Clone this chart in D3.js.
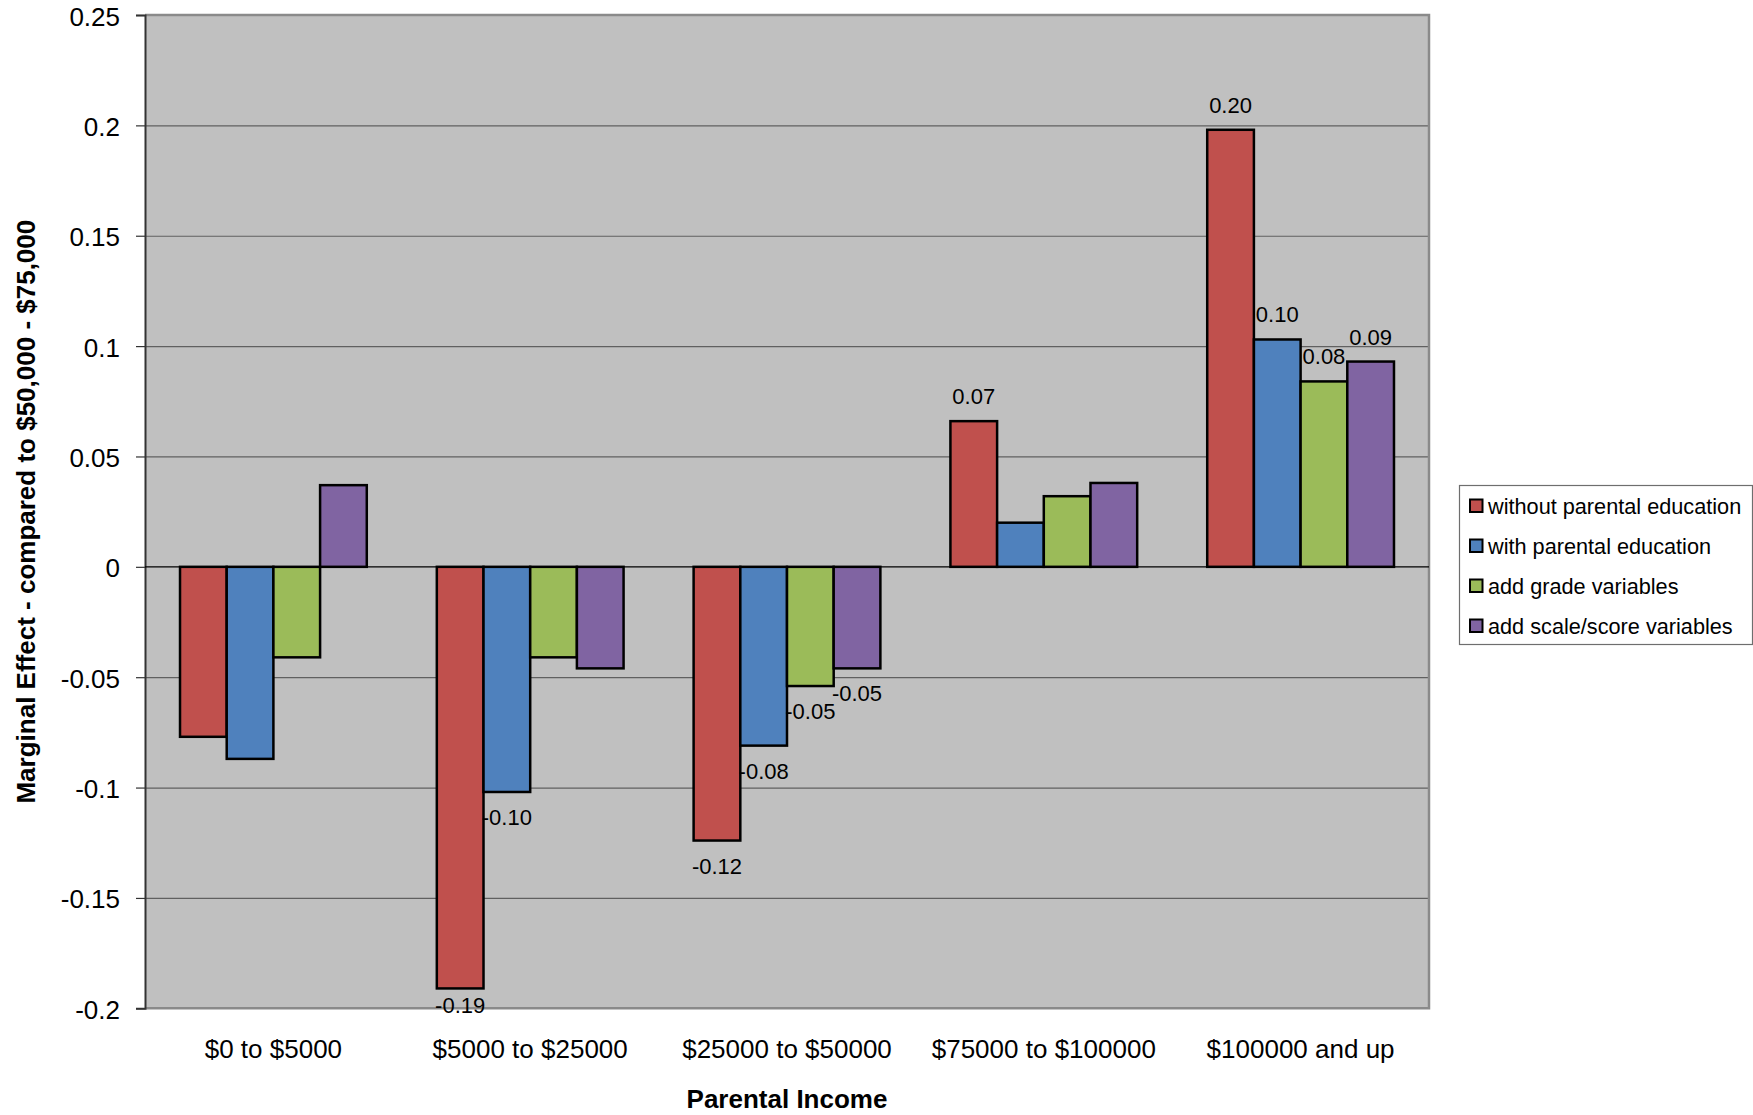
<!DOCTYPE html>
<html>
<head>
<meta charset="utf-8">
<script src="https://cdn.jsdelivr.net/npm/d3@7"></script>
<style>
  html, body { margin: 0; padding: 0; background: #ffffff; }
  svg { display: block; font-family: "Liberation Sans", Arial, sans-serif; }
</style>
</head>
<body>
<svg id="chart" width="1753" height="1115"></svg>
<script>
// ---- data ----
const categories = ["$0 to $5000", "$5000 to $25000", "$25000 to $50000", "$75000 to $100000", "$100000 and up"];
const seriesNames = ["without parental education", "with parental education", "add grade variables", "add scale/score variables"];
const withoutParentalEducation = [-0.077, -0.191, -0.124, 0.066, 0.198];
const withParentalEducation = [-0.087, -0.102, -0.081, 0.020, 0.103];
const addGradeVariables = [-0.041, -0.041, -0.054, 0.032, 0.084];
const addScaleScoreVariables = [0.037, -0.046, -0.046, 0.038, 0.093];
// which bars carry a data label (1 = shown)
const labelWithout = [0, 1, 1, 1, 1];
const labelWith = [0, 1, 1, 0, 1];
const labelGrade = [0, 0, 1, 0, 1];
const labelScale = [0, 0, 1, 0, 1];
const yTickValues = [0.25, 0.2, 0.15, 0.1, 0.05, 0, -0.05, -0.1, -0.15, -0.2];
const yTickLabels = ["0.25", "0.2", "0.15", "0.1", "0.05", "0", "-0.05", "-0.1", "-0.15", "-0.2"];
const yTitle = "Marginal Effect - compared to $50,000 - $75,000";
const xTitle = "Parental Income";

const seriesValues = [withoutParentalEducation, withParentalEducation, addGradeVariables, addScaleScoreVariables];
const seriesLabels = [labelWithout, labelWith, labelGrade, labelScale];
const colors = ["#C0504D", "#4F81BD", "#9BBB59", "#8064A2"];

// ---- layout ----
const plot = { left: 145, right: 1429, top: 15, bottom: 1008.3 };
const svg = d3.select("#chart");

const x0 = d3.scaleBand().domain(categories).range([plot.left, plot.right]).paddingInner(0).paddingOuter(0);
const x1 = d3.scaleBand().domain(d3.range(seriesNames.length)).range([0, x0.bandwidth()]).paddingInner(0).paddingOuter(0.75);
const y = d3.scaleLinear().domain([-0.2, 0.25]).range([plot.bottom, plot.top]);

// plot background
svg.append("rect")
  .attr("x", plot.left).attr("y", plot.top)
  .attr("width", plot.right - plot.left).attr("height", plot.bottom - plot.top)
  .attr("fill", "#C0C0C0");

// gridlines
const grid = svg.append("g")
  .attr("transform", `translate(${plot.left},0)`)
  .call(d3.axisLeft(y).tickValues(yTickValues.filter(v => v !== 0 && v !== 0.25 && v !== -0.2)).tickSize(-(plot.right - plot.left)).tickFormat(""));
grid.select(".domain").remove();
grid.selectAll("line").attr("stroke", "#606060").attr("stroke-width", 1.2);

// border (top, right, bottom)
svg.append("path")
  .attr("d", `M${plot.left},${plot.top}H${plot.right}V${plot.bottom}H${plot.left}`)
  .attr("fill", "none").attr("stroke", "#8a8a8a").attr("stroke-width", 2.5);

// y axis
const yAxis = svg.append("g")
  .attr("transform", `translate(${plot.left},0)`)
  .call(d3.axisLeft(y).tickValues(yTickValues).tickSize(9).tickPadding(16)
    .tickFormat((d, i) => yTickLabels[i]));
yAxis.select(".domain").attr("stroke", "#333").attr("stroke-width", 2);
yAxis.selectAll(".tick line").attr("stroke", "#333").attr("stroke-width", 1.2);
yAxis.selectAll(".tick text")
  .attr("font-size", 26).attr("fill", "#000")
  .attr("dy", null).attr("y", 10)
  .style("font-family", "'Liberation Sans', Arial, sans-serif");

// zero line
svg.append("line")
  .attr("x1", plot.left).attr("x2", plot.right)
  .attr("y1", y(0)).attr("y2", y(0))
  .attr("stroke", "#000").attr("stroke-width", 1.3);

// bars
const groups = svg.append("g").selectAll("g")
  .data(categories)
  .join("g")
  .attr("transform", d => `translate(${x0(d)},0)`);

groups.selectAll("rect")
  .data((d, ci) => seriesValues.map((vals, si) => ({ si, v: vals[ci], show: seriesLabels[si][ci] })))
  .join("rect")
  .attr("x", d => x1(d.si))
  .attr("width", x1.bandwidth())
  .attr("y", d => Math.min(y(d.v), y(0)))
  .attr("height", d => Math.abs(y(d.v) - y(0)))
  .attr("fill", d => colors[d.si])
  .attr("stroke", "#000")
  .attr("stroke-width", 2.5);

// data labels
groups.selectAll("text.dl")
  .data((d, ci) => seriesValues.map((vals, si) => ({ si, v: vals[ci], show: seriesLabels[si][ci] })).filter(d => d.show))
  .join("text")
  .attr("class", "dl")
  .attr("x", d => x1(d.si) + x1.bandwidth() / 2)
  .attr("y", d => d.v >= 0 ? y(d.v) - 17 : Math.min(y(d.v) + 33, plot.bottom + 5))
  .attr("text-anchor", "middle")
  .attr("font-size", 22)
  .attr("fill", "#000")
  .text(d => d.v.toFixed(2));

// category labels
svg.append("g").selectAll("text")
  .data(categories)
  .join("text")
  .attr("x", d => x0(d) + x0.bandwidth() / 2)
  .attr("y", 1058)
  .attr("text-anchor", "middle")
  .attr("font-size", 26)
  .attr("fill", "#000")
  .text(d => d);

// axis titles
svg.append("text")
  .attr("x", (plot.left + plot.right) / 2)
  .attr("y", 1108)
  .attr("text-anchor", "middle")
  .attr("font-size", 26)
  .attr("font-weight", "bold")
  .text(xTitle);

svg.append("text")
  .attr("transform", `translate(35,${(plot.top + plot.bottom) / 2}) rotate(-90)`)
  .attr("text-anchor", "middle")
  .attr("font-size", 26)
  .attr("font-weight", "bold")
  .text(yTitle);

// legend
const legend = svg.append("g");
legend.append("rect")
  .attr("x", 1459.5).attr("y", 485.5)
  .attr("width", 293).attr("height", 159)
  .attr("fill", "#fff").attr("stroke", "#6e6e6e").attr("stroke-width", 1.2);
const items = legend.selectAll("g.item")
  .data(seriesNames)
  .join("g")
  .attr("class", "item")
  .attr("transform", (d, i) => `translate(1470,${506 + i * 40})`);
items.append("rect")
  .attr("x", 0).attr("y", -6.5)
  .attr("width", 12.5).attr("height", 12.5)
  .attr("fill", (d, i) => colors[i])
  .attr("stroke", "#000").attr("stroke-width", 2);
items.append("text")
  .attr("x", 18).attr("y", 8)
  .attr("font-size", 21.7)
  .attr("fill", "#000")
  .text(d => d);
</script>
</body>
</html>
